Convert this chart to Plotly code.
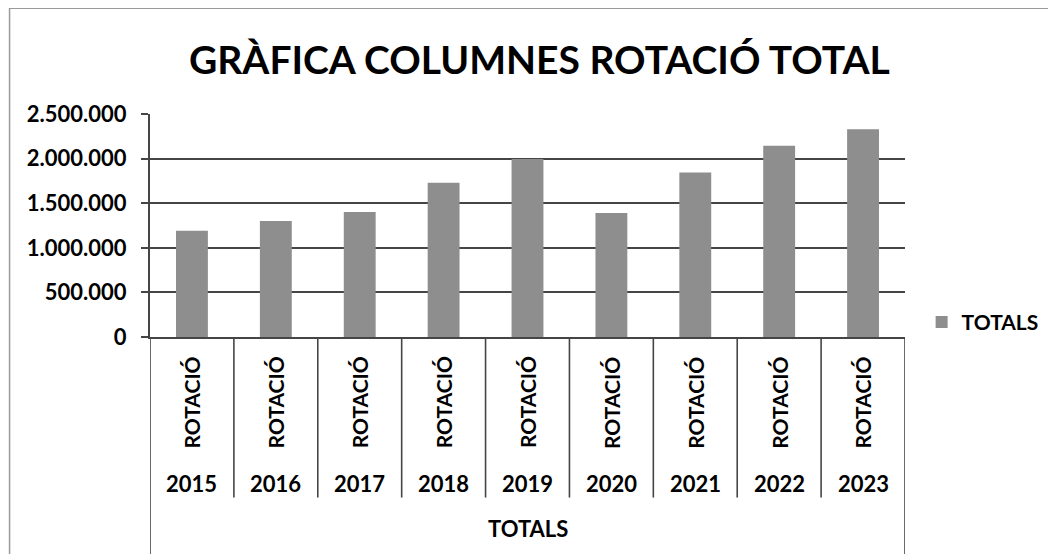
import plotly.graph_objects as go

# ---- data ----
years = ["2015", "2016", "2017", "2018", "2019", "2020", "2021", "2022", "2023"]
inner_label = "ROTACIÓ"
group_label = "TOTALS"
series_name = "TOTALS"
totals = [1190000, 1300000, 1400000, 1730000, 1995000, 1390000, 1845000, 2145000, 2330000]
y_ticks = [0, 500000, 1000000, 1500000, 2000000, 2500000]
title_text = "GRÀFICA COLUMNES ROTACIÓ TOTAL"

FONT = "Lato"
DARK = "#454545"

fig = go.Figure()
fig.add_trace(go.Bar(
    x=years, y=totals, name=series_name,
    marker=dict(color="#8e8e8e", line=dict(width=0)),
    showlegend=True,
))

annotations = []
for i, yr in enumerate(years):
    annotations.append(dict(x=i, xref="x", y=-0.294, yref="paper", text=inner_label,
                            textangle=-90, showarrow=False, yanchor="middle",
                            font=dict(family=FONT, size=21, color="black", weight="bold")))
    annotations.append(dict(x=i, xref="x", y=-0.657, yref="paper", text=yr,
                            showarrow=False, yanchor="middle",
                            font=dict(family=FONT, size=22, color="black", weight="bold")))
annotations.append(dict(x=0.5, xref="paper", y=-0.86, yref="paper", text=group_label,
                        showarrow=False, yanchor="middle",
                        font=dict(family=FONT, size=22, color="black", weight="bold")))

shapes = []
n = len(years)
for i in range(n + 1):
    edge = i in (0, n)
    shapes.append(dict(type="line", xref="x", yref="paper",
                       x0=i - 0.5, x1=i - 0.5, y0=0, y1=(-1.1 if edge else -0.72),
                       line=dict(color=DARK, width=1.6)))
# outer chart border
shapes.append(dict(type="rect", xref="paper", yref="paper",
                   x0=-0.186, x1=1.3, y0=-1.3, y1=1.474,
                   line=dict(color="#9a9a9a", width=1.5), fillcolor="rgba(0,0,0,0)"))

fig.update_layout(
    width=1048, height=546,
    margin=dict(l=142, r=151, t=106, b=217, autoexpand=False),
    paper_bgcolor="white", plot_bgcolor="white",
    separators=",.",
    bargap=0.62,
    title=dict(text=title_text, x=0.507, xanchor="center", y=0.905, yanchor="middle",
               xref="container", yref="container",
               font=dict(family=FONT, size=39, color="black", weight="bold")),
    xaxis=dict(type="category", range=[-0.5, n - 0.5], showticklabels=False,
               showgrid=False, showline=True, linecolor=DARK, linewidth=2,
               ticks="", zeroline=False),
    yaxis=dict(range=[0, y_ticks[-1]], tickvals=y_ticks, tickformat=",d",
               showgrid=True, gridcolor=DARK, gridwidth=1.8,
               showline=True, linecolor=DARK, linewidth=2,
               ticks="outside", ticklen=7, tickcolor=DARK, tickwidth=1.6,
               ticklabelstandoff=10, zeroline=False, automargin=False,
               tickfont=dict(family=FONT, size=22, color="black", weight="bold")),
    legend=dict(x=1.022, xanchor="left", y=0.066, yanchor="middle",
                font=dict(family=FONT, size=21, color="black", weight="bold"),
                itemwidth=30, bgcolor="rgba(0,0,0,0)"),
    annotations=annotations,
    shapes=shapes,
)

fig.write_html("out.html")
